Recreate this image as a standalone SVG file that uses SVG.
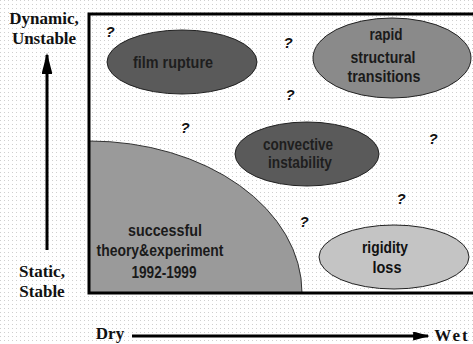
<svg xmlns="http://www.w3.org/2000/svg" width="473" height="344" viewBox="0 0 473 344">
<defs>
<pattern id="dots" width="4" height="4" patternUnits="userSpaceOnUse">
<rect x="0" y="0" width="1" height="1" fill="#cfcfcf"/>
</pattern>
<marker id="ahv" viewBox="0 0 10 10" refX="9" refY="5" markerWidth="7" markerHeight="3.6" orient="auto" markerUnits="strokeWidth" preserveAspectRatio="none">
<path d="M0,0 L10,5 L0,10 Z" fill="#000"/>
</marker>
<marker id="ahh" viewBox="0 0 10 10" refX="9" refY="5" markerWidth="5.5" markerHeight="3" orient="auto" markerUnits="strokeWidth" preserveAspectRatio="none">
<path d="M0,0 L10,5 L0,10 Z" fill="#000"/>
</marker>
<style>
.lbl{font-family:"Liberation Serif","Times New Roman",serif;font-weight:bold;font-size:17px;fill:#111;text-anchor:middle}
.nt{font-family:"Liberation Sans",Arial,sans-serif;font-weight:bold;font-size:17px;text-anchor:middle}
.q{font-family:"Liberation Sans",Arial,sans-serif;font-weight:bold;font-style:italic;font-size:15px;fill:#111;text-anchor:middle}
.ell{stroke:#222;stroke-width:1}
.ax{stroke:#000;stroke-width:3;fill:none}
</style>
</defs>
<rect width="473" height="344" fill="#fff"/>
<rect width="473" height="344" fill="url(#dots)"/>

<g id="frame">
<path d="M89,293 L89,141 A213,152 0 0 1 302,293 Z" fill="#9a9a9a" stroke="#333" stroke-width="1"/>
<rect x="89" y="14" width="400" height="279" fill="none" stroke="#000" stroke-width="3"/>
</g>

<g id="node-theory">
<text class="nt" x="165" y="236" fill="#1a1a1a" textLength="74" lengthAdjust="spacingAndGlyphs">successful</text>
<text class="nt" x="160" y="256" fill="#1a1a1a" textLength="127" lengthAdjust="spacingAndGlyphs">theory&amp;experiment</text>
<text class="nt" x="164" y="278" fill="#1a1a1a" textLength="65" lengthAdjust="spacingAndGlyphs">1992-1999</text>
</g>

<g id="node-film">
<ellipse class="ell" cx="182" cy="62" rx="75" ry="32" fill="#5a5a5a"/>
<text class="nt" x="173" y="68" fill="#1e1e1e" textLength="80" lengthAdjust="spacingAndGlyphs">film rupture</text>
</g>

<g id="node-rapid">
<ellipse class="ell" cx="392" cy="58" rx="79" ry="40" fill="#8a8a8a"/>
<text class="nt" x="386" y="40" fill="#1a1a1a" textLength="33" lengthAdjust="spacingAndGlyphs">rapid</text>
<text class="nt" x="383" y="63" fill="#1a1a1a" textLength="65" lengthAdjust="spacingAndGlyphs">structural</text>
<text class="nt" x="384" y="82" fill="#1a1a1a" textLength="73" lengthAdjust="spacingAndGlyphs">transitions</text>
</g>

<g id="node-convective">
<ellipse class="ell" cx="307" cy="154" rx="72" ry="32" fill="#5a5a5a"/>
<text class="nt" x="298" y="150" fill="#1e1e1e" textLength="70" lengthAdjust="spacingAndGlyphs">convective</text>
<text class="nt" x="300" y="168" fill="#1e1e1e" textLength="64" lengthAdjust="spacingAndGlyphs">instability</text>
</g>

<g id="node-rigidity">
<ellipse class="ell" cx="394" cy="257" rx="75" ry="32" fill="#c4c4c4"/>
<text class="nt" x="385" y="253" fill="#111" textLength="46" lengthAdjust="spacingAndGlyphs">rigidity</text>
<text class="nt" x="387" y="273" fill="#111" textLength="29" lengthAdjust="spacingAndGlyphs">loss</text>
</g>

<g id="questions">
<text class="q" x="110" y="37">?</text>
<text class="q" x="288" y="48">?</text>
<text class="q" x="290" y="100">?</text>
<text class="q" x="185" y="133">?</text>
<text class="q" x="433" y="144">?</text>
<text class="q" x="401" y="204">?</text>
<text class="q" x="304" y="227">?</text>
</g>

<g id="axis-labels">
<text class="lbl" x="44" y="24">Dynamic,</text>
<text class="lbl" x="44" y="44">Unstable</text>
<text class="lbl" x="42" y="277">Static,</text>
<text class="lbl" x="42" y="297">Stable</text>
<text class="lbl" x="110" y="339">Dry</text>
<text class="lbl" x="452" y="341" letter-spacing="2">Wet</text>
</g>

<g id="connectors">
<line class="ax" x1="47" y1="250" x2="47" y2="55" marker-end="url(#ahv)"/>
<line class="ax" x1="132" y1="336" x2="428" y2="336" marker-end="url(#ahh)"/>
</g>
</svg>
